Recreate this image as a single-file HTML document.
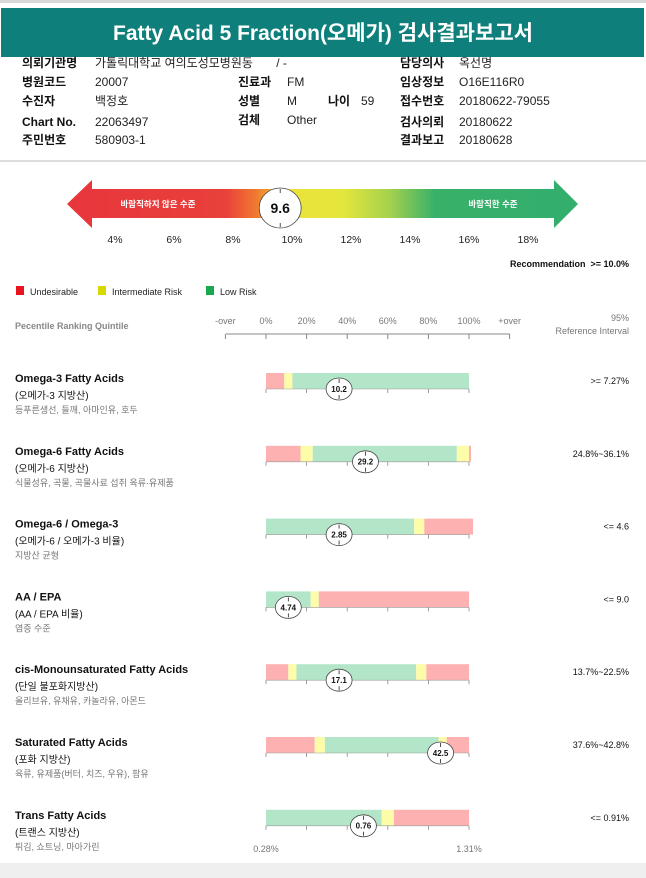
<!DOCTYPE html>
<html><head><meta charset="utf-8"><style>
html,body{margin:0;padding:0;background:#fff;}
svg{display:block;font-family:"Liberation Sans","Noto Sans CJK KR",sans-serif;}
.hl{font-size:12px;font-weight:bold;fill:#111;}
.hv{font-size:12px;fill:#222;}
.t1{font-size:11px;font-weight:bold;fill:#111;}
.t2{font-size:10px;fill:#111;}
.t3{font-size:9px;fill:#777;}
.ax{font-size:9px;fill:#777;}
</style></head><body>
<svg id="chart" width="646" height="878" viewBox="0 0 646 878">
<defs>
<linearGradient id="gg" x1="67" x2="578" y1="0" y2="0" gradientUnits="userSpaceOnUse">
<stop offset="0" stop-color="#e8363d"/><stop offset="0.31" stop-color="#e8403a"/>
<stop offset="0.37" stop-color="#f07a30"/><stop offset="0.44" stop-color="#ebe23a"/>
<stop offset="0.54" stop-color="#e4e63c"/><stop offset="0.63" stop-color="#a6d24c"/>
<stop offset="0.72" stop-color="#38b06a"/><stop offset="1" stop-color="#33ae6c"/>
</linearGradient>
</defs>
<rect x="0" y="0" width="646" height="3" fill="#d8d8d8"/>
<rect x="1" y="8" width="643" height="49" fill="#0e7f7a"/>
<text x="323" y="40" text-anchor="middle" fill="#fff" font-size="21" font-weight="bold">Fatty Acid 5 Fraction(오메가) 검사결과보고서</text>
<g>
<text class="hl" x="22" y="67">의뢰기관명</text><text class="hv" x="95" y="67">가톨릭대학교 여의도성모병원동 &#160;&#160;&#160;&#160;&#160;&#160;/ -</text>
<text class="hl" x="400" y="67">담당의사</text><text class="hv" x="459" y="67">옥선명</text>
<text class="hl" x="22" y="86">병원코드</text><text class="hv" x="95" y="86">20007</text>
<text class="hl" x="238" y="86">진료과</text><text class="hv" x="287" y="86">FM</text>
<text class="hl" x="400" y="86">임상정보</text><text class="hv" x="459" y="86">O16E116R0</text>
<text class="hl" x="22" y="105">수진자</text><text class="hv" x="95" y="105">백정호</text>
<text class="hl" x="238" y="105">성별</text><text class="hv" x="287" y="105">M</text>
<text class="hl" x="328" y="105">나이</text><text class="hv" x="361" y="105">59</text>
<text class="hl" x="400" y="105">접수번호</text><text class="hv" x="459" y="105">20180622-79055</text>
<text class="hl" x="22" y="126">Chart No.</text><text class="hv" x="95" y="126">22063497</text>
<text class="hl" x="238" y="124">검체</text><text class="hv" x="287" y="124">Other</text>
<text class="hl" x="400" y="126">검사의뢰</text><text class="hv" x="459" y="126">20180622</text>
<text class="hl" x="22" y="144">주민번호</text><text class="hv" x="95" y="144">580903-1</text>
<text class="hl" x="400" y="144">결과보고</text><text class="hv" x="459" y="144">20180628</text>
</g>
<rect x="0" y="160" width="646" height="2" fill="#ddd"/>
<polygon points="67,204 92,180 92,189 554,189 554,180 578,204 554,228 554,218 92,218 92,228" fill="url(#gg)"/>
<text x="158" y="207" fill="#fff" font-size="8.5" font-weight="bold" text-anchor="middle">바람직하지 않은 수준</text>
<text x="493" y="207" fill="#fff" font-size="8.5" font-weight="bold" text-anchor="middle">바람직한 수준</text>
<g id="gauge"></g>
<text x="629" y="267" text-anchor="end" font-size="9" font-weight="bold" fill="#111">Recommendation &#160;&gt;= 10.0%</text>
<g>
<rect x="16" y="286" width="8" height="9" fill="#e8141e"/><text x="30" y="295" font-size="9" fill="#222">Undesirable</text>
<rect x="98" y="286" width="8" height="9" fill="#d8d800"/><text x="112" y="295" font-size="9" fill="#222">Intermediate Risk</text>
<rect x="206" y="286" width="8" height="9" fill="#1aa84e"/><text x="220" y="295" font-size="9" fill="#222">Low Risk</text>
</g>
<text x="15" y="329" font-size="9" font-weight="bold" fill="#888">Pecentile Ranking Quintile</text>
<text x="629" y="321" text-anchor="end" class="ax">95%</text>
<text x="629" y="334" text-anchor="end" class="ax">Reference Interval</text>
<g id="axis"></g>
<g id="rows"></g>
<text x="266" y="852" text-anchor="middle" class="ax">0.28%</text>
<text x="469" y="852" text-anchor="middle" class="ax">1.31%</text>
<rect x="0" y="863" width="646" height="15" fill="#efefef"/>
</svg>
<script>
const NS="http://www.w3.org/2000/svg";
const gaugeTicks=[4,6,8,10,12,14,16,18];
const gaugeValue=9.6;
const pctTicks=["-over","0%","20%","40%","60%","80%","100%","+over"];
const rowNames=["Omega-3 Fatty Acids","Omega-6 Fatty Acids","Omega-6 / Omega-3","AA / EPA","cis-Monounsaturated Fatty Acids","Saturated Fatty Acids","Trans Fatty Acids"];
const rowKor=["(오메가-3 지방산)","(오메가-6 지방산)","(오메가-6 / 오메가-3 비율)","(AA / EPA 비율)","(단일 불포화지방산)","(포화 지방산)","(트랜스 지방산)"];
const rowDesc=["등푸른생선, 들깨, 아마인유, 호두","식물성유, 곡물, 곡물사료 섭취 육류·유제품","지방산 균형","염증 수준","올리브유, 유채유, 카놀라유, 아몬드","육류, 유제품(버터, 치즈, 우유), 팜유","튀김, 쇼트닝, 마아가린"];
const rowRef=[">= 7.27%","24.8%~36.1%","<= 4.6","<= 9.0","13.7%~22.5%","37.6%~42.8%","<= 0.91%"];
const rowValueLabels=["10.2","29.2","2.85","4.74","17.1","42.5","0.76"];
const rowPercentile=[36,49,36,11,36,86,48];
const segEnds=[[9,13,100],[17,23,94,100,101],[73,78,102],[22,26,100],[11,15,74,79,100],[24,29,85,89,100],[57,63,100]];
const segKinds=[["r","y","g"],["r","y","g","y","r"],["g","y","r"],["g","y","r"],["r","y","g","y","r"],["r","y","g","y","r"],["g","y","r"]];
const colors={r:"#fdb1b1",y:"#fdfca8",g:"#b3e6c8"};
const gx=v=>115+(v-4)*29.5;
const px=p=>266+p*2.03;
function el(t,a,parent){const e=document.createElementNS(NS,t);for(const k in a)e.setAttribute(k,a[k]);parent.appendChild(e);return e;}
function txt(parent,x,y,s,cls,anchor){const t=el("text",{x:x,y:y,class:cls||"","text-anchor":anchor||"start"},parent);t.textContent=s;return t;}
function marker(parent,cx,cy,rx,ry,label,fs){
 const g=el("g",{},parent);
 
 
 el("ellipse",{cx:cx,cy:cy,rx:rx,ry:ry,fill:"#fff",stroke:"#444","stroke-width":0.8},g);
 el("line",{x1:cx,y1:cy-ry+1,x2:cx,y2:cy-ry+5,stroke:"#222","stroke-width":0.8},g);
 el("line",{x1:cx,y1:cy+ry-5,x2:cx,y2:cy+ry-1,stroke:"#222","stroke-width":0.8},g);
 const t=txt(g,cx,cy+fs*0.36,label,"","middle");t.setAttribute("font-size",fs);t.setAttribute("font-weight","bold");t.setAttribute("fill","#111");
}
const gauge=document.getElementById("gauge");
gaugeTicks.forEach(v=>{const t=txt(gauge,gx(v),243,v+"%","","middle");t.setAttribute("font-size","10.5");t.setAttribute("fill","#222");
 
 });
marker(gauge,gx(gaugeValue),208,21,20,String(gaugeValue),14);
const axis=document.getElementById("axis");
el("line",{x1:226,y1:334,x2:510,y2:334,stroke:"#888","stroke-width":1},axis);
pctTicks.forEach((s,i)=>{const x=px((i-1)*20);
 const t=txt(axis,x,324,s,"ax","middle");
 
 
 el("line",{x1:x,y1:334,x2:x,y2:339,stroke:"#888","stroke-width":1},axis);});
const rows=document.getElementById("rows");
rowNames.forEach((n,i)=>{
 const y0=373+i*72.8;
 const g=el("g",{},rows);
 
 
 txt(g,15,y0+9,n,"t1");txt(g,15,y0+26,rowKor[i],"t2");txt(g,15,y0+40,rowDesc[i],"t3");
 const r=txt(g,629,y0+11,rowRef[i],"","end");r.setAttribute("font-size","9");r.setAttribute("fill","#111");
 let s=0;
 segEnds[i].forEach((e,j)=>{const rc=el("rect",{x:px(s),y:y0,width:px(e)-px(s),height:16,fill:colors[segKinds[i][j]]},g);
  
  
  s=e;});
 el("line",{x1:266,y1:y0+16,x2:469,y2:y0+16,stroke:"#999","stroke-width":0.6},g);
 for(let k=0;k<=5;k++){const x=px(k*20);el("line",{x1:x,y1:y0+16,x2:x,y2:y0+20,stroke:"#888","stroke-width":0.8},g);}
 marker(g,px(rowPercentile[i]),y0+16,13,11,rowValueLabels[i],8);
});
</script>
</body></html>
